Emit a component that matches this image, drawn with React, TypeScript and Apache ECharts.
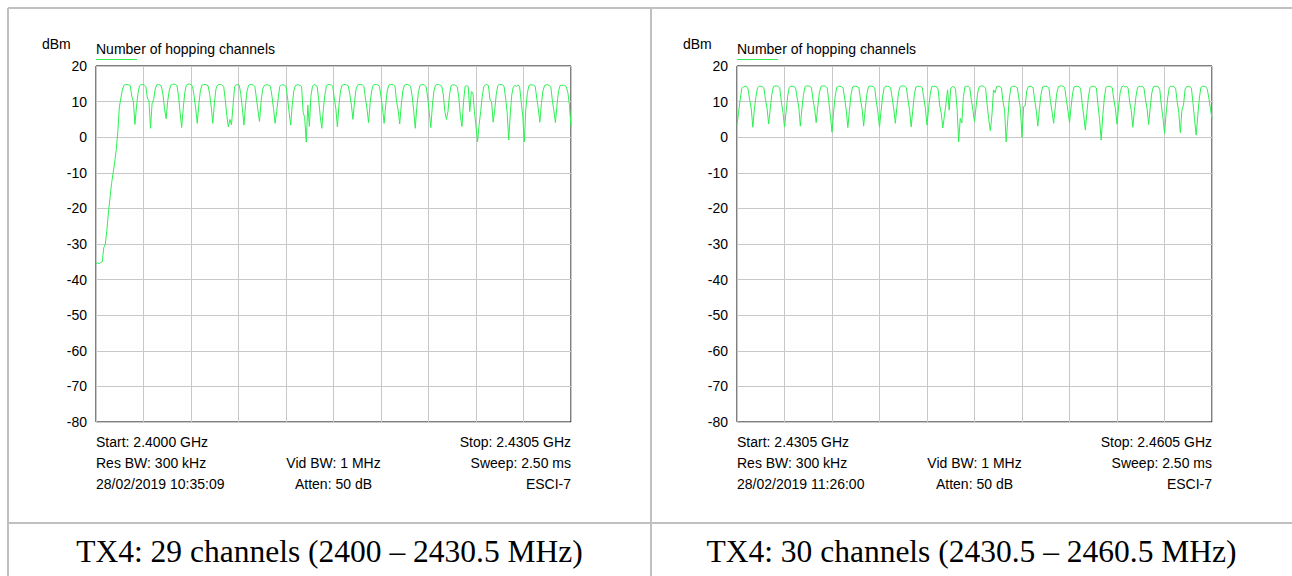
import React, { useEffect, useRef } from "react";
import * as echarts from "echarts";

// ---------- data (dBm, 0.1 MHz steps) ----------
const LEFT_SPAN_MHZ = 30.5;
const RIGHT_SPAN_MHZ = 30.0;
const STEP_MHZ = 0.1;

const yTicks = [20, 10, 0, -10, -20, -30, -40, -50, -60, -70, -80];

// left trace: ramp 2400.0 - 2402.4 MHz
const leftHead = [
  -35.5, -35.3, -35.5, -35.2, -35.0, -31.0, -30.0, -26, -21, -17,
  -13, -10, -7, -3.5, 1.5, 8.5, 11, 13.5, 14.6, 14.8,
  14.8, 14.7, 14.5, 11.5, 10,
];
// one row per channel, starting at the dip (x.5 MHz)
const leftRows = [
  [3.6, 8.5, 12.5, 14.5, 14.8, 14.8, 14.7, 14.2, 11, 10.2],
  [2.5, 9.5, 10.5, 13.5, 14.7, 14.8, 14.7, 14.3, 12, 8],
  [5.2, 10, 13, 14.6, 14.8, 14.9, 14.8, 14.5, 11.5, 7],
  [2.7, 8, 12.5, 14.6, 14.9, 14.9, 14.8, 14.3, 11.5, 8],
  [3.9, 9, 13, 14.6, 14.8, 14.8, 14.7, 14.4, 12, 8.5],
  [3.9, 9.5, 13.5, 14.6, 14.8, 14.8, 14.7, 14.2, 10.5, 6],
  [2.9, 5, 3.5, 9, 14.2, 14.7, 14.8, 14.6, 12, 8],
  [3.4, 9, 13, 14.6, 14.8, 14.8, 14.6, 14.2, 11, 7.5],
  [4.4, 10, 13.5, 14.5, 14.7, 14.7, 14.6, 14.3, 11.5, 8],
  [3.9, 7.2, 11, 14.3, 14.7, 14.7, 14.6, 14.3, 11, 7],
  [3.4, 9, 13, 14.5, 14.7, 14.7, 14.6, 14.2, 7, 5.5],
  [-1.4, 9, 3, 11.5, 14.3, 14.8, 14.6, 14.3, 10.4, 5.8],
  [2.5, 8, 12, 14.5, 14.8, 14.8, 14.7, 14.3, 11, 8],
  [2.9, 9, 13, 14.6, 14.8, 14.8, 14.7, 14.4, 12, 9],
  [5.0, 10, 13.5, 14.6, 14.8, 14.8, 14.7, 14.3, 11, 8],
  [4.1, 9.5, 13, 14.6, 14.8, 14.8, 14.7, 14.3, 11.5, 8],
  [3.9, 9, 13, 14.6, 14.8, 14.8, 14.7, 14.3, 10, 7.6],
  [3.7, 9, 13, 14.6, 14.8, 14.8, 14.6, 14.3, 11.5, 7.5],
  [2.5, 8.5, 12.5, 14.5, 14.8, 14.8, 14.6, 14.2, 11, 7],
  [2.7, 9, 13, 14.6, 14.8, 14.8, 14.6, 14.3, 12, 7.2],
  [5.0, 7.2, 12, 14.5, 14.7, 14.7, 14.5, 14.1, 11, 5.8],
  [3.0, 10, 14.3, 14.5, 14.2, 7.2, 12.8, 12.5, 7.2, 3],
  [-1.3, 3.5, 7.2, 11.5, 14.2, 14.7, 14.8, 14.5, 10.4, 10],
  [4.2, 7.5, 12, 14.5, 14.8, 14.8, 14.7, 14.3, 11, 7],
  [-0.8, 6.5, 12, 14.2, 14.5, 14.3, 14.7, 14.3, 10, 6],
  [-1.3, 8, 12.5, 14.5, 14.7, 14.7, 14.6, 14.3, 11, 8],
  [4.2, 9.5, 13, 14.5, 14.7, 14.7, 14.6, 14.2, 10.5, 7.5],
  [4.1, 9, 13, 14.5, 14.6, 14.6, 14.5, 14.2, 12.5, 9],
];
const leftEnd = [3];

// right trace: 2430.5 - 2431.4 MHz
const rightHead = [3.4, 7, 10.5, 13.7, 14.1, 14.3, 14.3, 13.5, 10.5, 8];
const rightRows = [
  [2.8, 8, 11.5, 13.9, 14.3, 14.3, 14.2, 13.8, 10.5, 8],
  [3.7, 8, 12, 14.2, 14.4, 14.4, 14.3, 13.8, 10, 7],
  [2.9, 7, 11.5, 14, 14.3, 14.3, 14.2, 13.9, 11, 8.5],
  [3.1, 8, 12, 14.2, 14.4, 14.4, 14.3, 14, 10.5, 8],
  [4.1, 8.5, 12.5, 14.2, 14.4, 14.4, 14.3, 13.8, 10, 6],
  [1.4, 7, 11.5, 14, 14.3, 14.3, 14.2, 13.8, 11, 7.5],
  [2.7, 7.5, 12, 14.1, 14.3, 14.3, 14.2, 13.9, 10.5, 8],
  [3.1, 8, 12, 14.2, 14.4, 14.3, 14.2, 13.8, 10, 7],
  [2.8, 7.5, 11.5, 14, 14.3, 14.3, 14.2, 13.9, 11, 8],
  [3.9, 8.5, 12.5, 14.2, 14.4, 14.4, 14.3, 13.9, 10.5, 7.5],
  [2.9, 7.5, 12, 14.1, 14.3, 14.3, 14.2, 13.9, 11, 8],
  [3.4, 8, 12, 14.2, 14.3, 14.3, 14.2, 13.5, 9, 6.7],
  [2.6, 6, 9.5, 13.3, 7.6, 13.7, 14.2, 14.2, 13.5, 8],
  [-1.3, 5.3, 4, 11.4, 14.2, 14.3, 14.3, 13.9, 10.5, 7.5],
  [4.4, 8.5, 12.5, 14.2, 14.4, 14.4, 14.3, 13.8, 9, 5],
  [1.8, 6.2, 13.3, 12.5, 14.2, 14.3, 14.3, 13.8, 10, 7.6],
  [-1.3, 5, 11, 14, 14.3, 14.3, 14.2, 13.9, 11, 8],
  [0, 8.6, 8.8, 13, 14.2, 14.3, 14.2, 13.9, 10.5, 7.5],
  [3.1, 8, 12, 14.1, 14.3, 14.3, 14.2, 13.8, 10, 7],
  [3.9, 8.5, 12.5, 14.2, 14.4, 14.4, 14.3, 13.9, 10.5, 7.5],
  [4.1, 8.5, 12.5, 14.2, 14.3, 14.3, 14.2, 13.7, 9.5, 6],
  [2, 7, 11.5, 14, 14.3, 14.3, 14.2, 13.8, 9, 5],
  [-0.8, 6, 11, 14, 14.3, 14.3, 14.2, 13.9, 10.5, 8],
  [3.7, 8.5, 12.5, 14.2, 14.4, 14.1, 14.3, 13.8, 10, 7.5],
  [2.8, 7.5, 11.5, 14, 14.3, 14.3, 14.2, 13.9, 10.5, 8],
  [3.6, 8.5, 12.5, 14.2, 14.3, 14.3, 14.2, 13.5, 9, 5.5],
  [1.1, 6.5, 11, 14, 14.3, 14.3, 14.2, 13.8, 10, 7],
  [1.3, 7.6, 9, 13.5, 14.2, 14.3, 14.2, 13.8, 9.5, 5],
  [0.6, 6, 11, 14, 14.3, 14.3, 14.2, 13.5, 11, 8],
];
const rightEnd = [5.3];

const leftInfo = [
  ["Start: 2.4000 GHz", "", "Stop: 2.4305 GHz"],
  ["Res BW: 300 kHz", "Vid BW: 1 MHz", "Sweep: 2.50 ms"],
  ["28/02/2019 10:35:09", "Atten: 50 dB", "ESCI-7"],
];
const rightInfo = [
  ["Start: 2.4305 GHz", "", "Stop: 2.4605 GHz"],
  ["Res BW: 300 kHz", "Vid BW: 1 MHz", "Sweep: 2.50 ms"],
  ["28/02/2019 11:26:00", "Atten: 50 dB", "ESCI-7"],
];
const captions = [
  "TX4: 29 channels (2400 \u2013 2430.5 MHz)",
  "TX4: 30 channels (2430.5 \u2013 2460.5 MHz)",
];
const unitLabel = "dBm";
const seriesName = "Number of hopping channels";

// ---------- layout ----------
const W = 1292;
const H = 576;
const GREEN = "#2ef052";
const BORDER = "#c0c0c0";
const SANS = '"Liberation Sans", Arial, sans-serif';
const SERIF = '"Liberation Serif", "Times New Roman", serif';
const panels = [
  { left: 96, cellLeft: 8, cellRight: 651 },
  { left: 737, cellLeft: 651, cellRight: 1292 },
];
const PLOT_TOP = 66;
const PLOT_W = 475;
const PLOT_H = 356;

export default function App() {
  const ref = useRef<HTMLDivElement>(null);

  useEffect(() => {
    if (!ref.current) return;
    const chart = echarts.init(ref.current, null, { renderer: "svg" });

    const leftTrace = [...leftHead, ...leftRows.flat(), ...leftEnd];
    const rightTrace = [...rightHead, ...rightRows.flat(), ...rightEnd];
    const traces = [leftTrace, rightTrace];
    const spans = [LEFT_SPAN_MHZ, RIGHT_SPAN_MHZ];
    const infos = [leftInfo, rightInfo];

    const graphic: any[] = [];
    const line = (x1: number, y1: number, x2: number, y2: number) => ({
      type: "line",
      silent: true,
      shape: { x1, y1, x2, y2 },
      style: { stroke: BORDER, lineWidth: 2 },
    });
    graphic.push(line(8, 8, W, 8));
    graphic.push(line(8, 8, 8, H));
    graphic.push(line(651, 8, 651, H));
    graphic.push(line(8, 523, W, 523));

    const text = (
      x: number,
      y: number,
      t: string,
      align: string,
      font = `14px ${SANS}`
    ) => ({
      type: "text",
      silent: true,
      x,
      y,
      style: {
        text: t,
        font,
        fill: "#000",
        textAlign: align,
        align,
        textVerticalAlign: "middle",
        verticalAlign: "middle",
      },
    });

    panels.forEach((p, i) => {
      graphic.push(text(p.left - 54, 44, unitLabel, "left"));
      graphic.push(text(p.left, 48.5, seriesName, "left"));
      graphic.push({
        type: "line",
        silent: true,
        shape: { x1: p.left, y1: 59.5, x2: p.left + 41, y2: 59.5 },
        style: { stroke: GREEN, lineWidth: 1 },
      });
      const rowsY = [441.5, 462.5, 484];
      infos[i].forEach((row, r) => {
        if (row[0]) graphic.push(text(p.left, rowsY[r], row[0], "left"));
        if (row[1])
          graphic.push(text(p.left + PLOT_W / 2, rowsY[r], row[1], "center"));
        if (row[2])
          graphic.push(text(p.left + PLOT_W, rowsY[r], row[2], "right"));
      });
      graphic.push(
        text(
          (p.cellLeft + p.cellRight) / 2,
          551,
          captions[i],
          "center",
          `31.5px ${SERIF}`
        )
      );
    });

    const grids = panels.map((p) => ({
      left: p.left,
      top: PLOT_TOP,
      width: PLOT_W,
      height: PLOT_H,
      show: true,
      borderColor: "#000",
      borderWidth: 1,
      backgroundColor: "transparent",
    }));

    const xAxes = panels.map((_, i) => ({
      type: "value",
      gridIndex: i,
      min: 0,
      max: spans[i],
      interval: spans[i] / 10,
      axisLine: { show: false },
      axisTick: { show: false },
      axisLabel: { show: false },
      splitLine: { show: true, lineStyle: { color: "#c8c8c8", width: 1 } },
    }));
    const yAxes = panels.map((_, i) => ({
      type: "value",
      gridIndex: i,
      min: yTicks[yTicks.length - 1],
      max: yTicks[0],
      interval: 10,
      axisLine: { show: false },
      axisTick: { show: false },
      axisLabel: {
        show: true,
        color: "#000",
        fontSize: 14,
        fontFamily: SANS,
        margin: 9,
      },
      splitLine: { show: true, lineStyle: { color: "#c8c8c8", width: 1 } },
    }));

    const series = traces.map((tr, i) => ({
      type: "line",
      name: seriesName,
      xAxisIndex: i,
      yAxisIndex: i,
      showSymbol: false,
      symbol: "none",
      clip: true,
      lineStyle: { color: GREEN, width: 1 },
      itemStyle: { color: GREEN },
      data: tr.map((v, k) => [k * STEP_MHZ, v]),
      z: 3,
    }));

    chart.setOption({
      animation: false,
      backgroundColor: "#fff",
      grid: grids,
      xAxis: xAxes,
      yAxis: yAxes,
      series,
      graphic,
    });

    return () => chart.dispose();
  }, []);

  return (
    <div
      ref={ref}
      style={{ position: "absolute", left: 0, top: 0, width: W, height: H }}
    />
  );
}
